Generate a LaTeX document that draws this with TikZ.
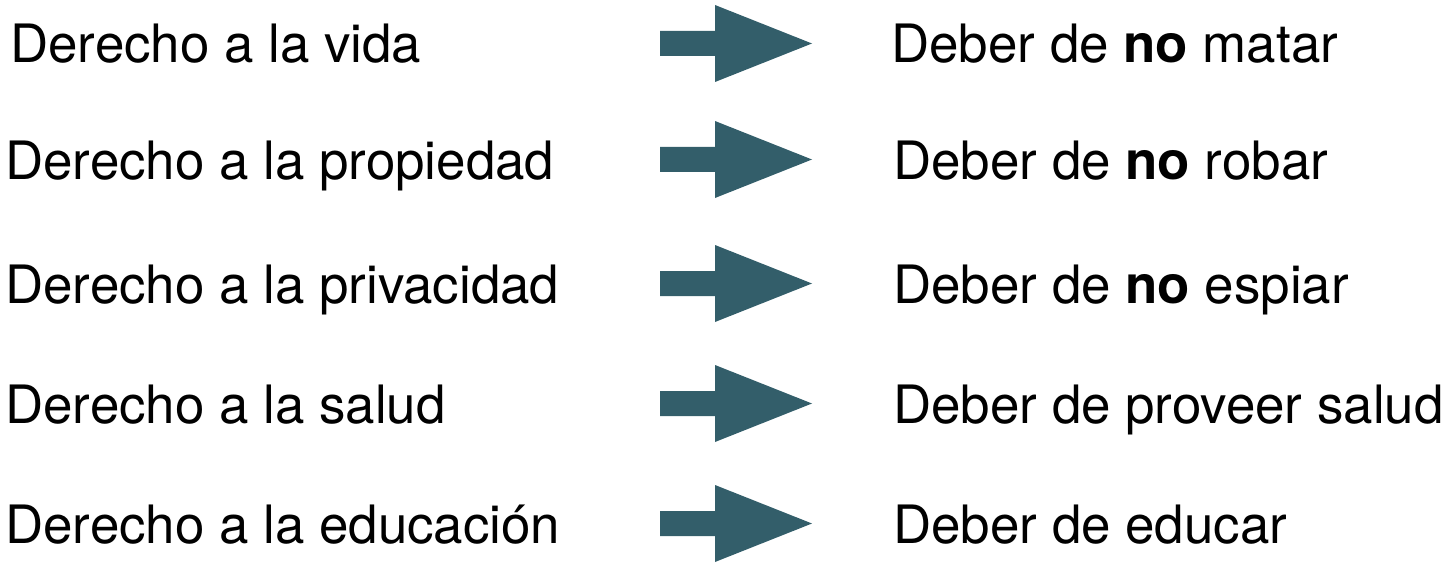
\documentclass[tikz,border=0pt]{standalone}
\usepackage{fontspec}
\setmainfont{TeX Gyre Heros}
\usetikzlibrary{positioning}
\definecolor{flecha}{HTML}{335E6A}

\begin{document}
\begin{tikzpicture}[x=0.02cm,y=-0.02cm, font=\fontsize{30.1}{34}\selectfont, line join=miter]
		\useasboundingbox (0,0) rectangle (1451,571);
		
		% ===== estilos =====
		\tikzset{flecha/.style={fill=flecha, draw=none},
			txt/.style={anchor=base west, inner sep=0pt}}
		
		% ===== filas: derecho -> deber =====
		\foreach \i/\yc/\xa/\xb/\der/\deb in {
			1/43.5/10/891/vida/{Deber de \textbf{no} matar},
			2/159.5/5/893/propiedad/{Deber de \textbf{no} robar},
			3/283.5/5/893/privacidad/{Deber de \textbf{no} espiar},
			4/403.5/5/893/salud/{Deber de proveer salud},
			5/523.5/5/893/educación/{Deber de educar}}{
			\node[txt] (der\i) at (\xa,\yc+19.5) {Derecho a la \der};
			\node[txt] (deb\i) at (\xb,\yc+19.5) {\deb};
			% flecha gruesa
			\fill[flecha] (660,\yc-12.5) -- (715,\yc-12.5) -- (715,\yc-38.5)
				-- (812,\yc) -- (715,\yc+38.5) -- (715,\yc+12.5) -- (660,\yc+12.5) -- cycle;
		}
		
	\end{tikzpicture}
\end{document}
